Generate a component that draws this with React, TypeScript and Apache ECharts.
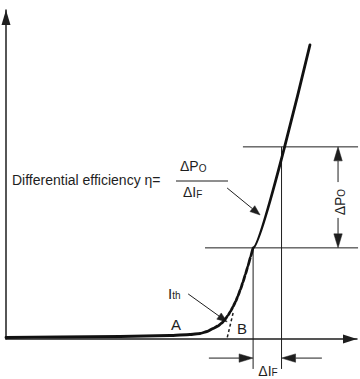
import React, { useEffect, useRef } from "react";
import * as echarts from "echarts";

// Light output Po vs forward current IF (arbitrary units, 0..100 on both axes)
const I_CURVE = [0, 15.4, 32.5, 46.7, 52.4, 55.3, 57.3, 59.0, 60.4, 61.5, 62.3, 63.2, 64.0, 64.7, 65.4, 66.1, 66.8, 67.5, 68.2, 68.9, 69.7, 70.4, 86.6];
const PO_CURVE = [0.46, 0.61, 0.76, 1.06, 1.37, 1.67, 2.28, 3.19, 3.95, 4.86, 5.85, 7.12, 8.48, 9.84, 11.38, 13.13, 15.09, 17.26, 19.6, 22.08, 25.04, 27.7, 89.4];

// Construction of the differential efficiency
const PO_LEVELS = [27.7, 58.4];
const IF_AT_LEVELS = [70.4, 78.5];
const GUIDE_FROM_I = [56.7, 67.5];
const GUIDE_TO_I = 100.3;
const DIM_BOTTOM_PO = -9.1;
const DIF_ARROW_PO = -5.8;
const DIF_ARROW_FROM = [57.8, 90.0];
const DPO_I = 94.6;
const DPO_ARROW_FROM = [36.8, 47.7];
const DPO_LABEL_PO = 41.6;
const ITH_ARROW = [[51.9, 13.7], [63.0, 5.2]];
const EFF_ARROW = [[63.0, 45.9], [72.4, 37.7]];
const TANGENT_B = [[64.7, 7.9], [63.0, 0.3]];

export default function App() {
  const ref = useRef<HTMLDivElement>(null);
  useEffect(() => {
    const chart = echarts.init(ref.current!, null, { renderer: "svg" });
    const font = "'Liberation Sans', Arial, Helvetica, sans-serif";
    const ink = "#1e1e1e";

    const guideRows = [
      [GUIDE_FROM_I[0], PO_LEVELS[0], GUIDE_TO_I, PO_LEVELS[0]],
      [GUIDE_FROM_I[1], PO_LEVELS[1], GUIDE_TO_I, PO_LEVELS[1]],
      [IF_AT_LEVELS[0], PO_LEVELS[0], IF_AT_LEVELS[0], DIM_BOTTOM_PO],
      [IF_AT_LEVELS[1], PO_LEVELS[1], IF_AT_LEVELS[1], DIM_BOTTOM_PO],
    ];
    const dimArrowRows = [
      [DIF_ARROW_FROM[0], DIF_ARROW_PO, IF_AT_LEVELS[0], DIF_ARROW_PO],
      [DIF_ARROW_FROM[1], DIF_ARROW_PO, IF_AT_LEVELS[1], DIF_ARROW_PO],
      [DPO_I, DPO_ARROW_FROM[0], DPO_I, PO_LEVELS[0]],
      [DPO_I, DPO_ARROW_FROM[1], DPO_I, PO_LEVELS[1]],
    ];
    const pointerRows = [
      [ITH_ARROW[0][0], ITH_ARROW[0][1], ITH_ARROW[1][0], ITH_ARROW[1][1]],
      [EFF_ARROW[0][0], EFF_ARROW[0][1], EFF_ARROW[1][0], EFF_ARROW[1][1]],
    ];
    const tangentRows = [[TANGENT_B[0][0], TANGENT_B[0][1], TANGENT_B[1][0], TANGENT_B[1][1]]];

    const lineRender = (lw: number, dash?: number[]) => (params: any, api: any) => {
      const a = api.coord([api.value(0), api.value(1)]);
      const b = api.coord([api.value(2), api.value(3)]);
      return {
        type: "line",
        shape: { x1: a[0], y1: a[1], x2: b[0], y2: b[1] },
        style: { stroke: ink, lineWidth: lw, lineDash: dash || null },
      };
    };
    const arrowRender = (headLen: number, headHalf: number, lw: number) => (params: any, api: any) => {
      const a = api.coord([api.value(0), api.value(1)]);
      const b = api.coord([api.value(2), api.value(3)]);
      const dx = b[0] - a[0];
      const dy = b[1] - a[1];
      const len = Math.hypot(dx, dy) || 1;
      const ux = dx / len;
      const uy = dy / len;
      const base = [b[0] - ux * headLen, b[1] - uy * headLen];
      const l = [base[0] - uy * headHalf, base[1] + ux * headHalf];
      const r = [base[0] + uy * headHalf, base[1] - ux * headHalf];
      return {
        type: "group",
        children: [
          { type: "line", shape: { x1: a[0], y1: a[1], x2: base[0], y2: base[1] }, style: { stroke: ink, lineWidth: lw } },
          { type: "polygon", shape: { points: [b, l, r] }, style: { fill: ink, stroke: ink, lineWidth: 0.5 } },
        ],
      };
    };
    const dims = ["x1", "y1", "x2", "y2"];

    const big = 14;
    const small = 10;
    const richPO = {
      a: { fontSize: big, fontFamily: font, fill: ink, verticalAlign: "bottom", lineHeight: 17 },
      b: { fontSize: small, fontFamily: font, fill: ink, verticalAlign: "bottom", lineHeight: 14.6 },
    };
    const richIth = {
      a: { fontSize: 15, fontFamily: font, fill: ink, verticalAlign: "bottom", lineHeight: 18 },
      b: { fontSize: 10, fontFamily: font, fill: ink, verticalAlign: "bottom", lineHeight: 15 },
    };

    chart.setOption({
      animation: false,
      grid: { left: 6, right: 3, top: 10, bottom: 40, containLabel: false },
      xAxis: {
        type: "value",
        min: 0,
        max: 100,
        axisLine: {
          show: true,
          symbol: ["none", "triangle"],
          symbolSize: [9, 14],
          symbolOffset: [0, -7],
          lineStyle: { color: ink, width: 1.5 },
        },
        axisTick: { show: false },
        axisLabel: { show: false },
        splitLine: { show: false },
      },
      yAxis: {
        type: "value",
        min: 0,
        max: 100,
        axisLine: {
          show: true,
          symbol: ["none", "triangle"],
          symbolSize: [9, 15],
          symbolOffset: [0, -7.5],
          lineStyle: { color: ink, width: 1.5 },
        },
        axisTick: { show: false },
        axisLabel: { show: false },
        splitLine: { show: false },
      },
      series: [
        {
          type: "custom",
          name: "guides",
          clip: false,
          silent: true,
          dimensions: dims,
          encode: { x: [0, 2], y: [1, 3] },
          renderItem: lineRender(1),
          data: guideRows,
          z: 2,
        },
        {
          type: "custom",
          name: "dimension arrows",
          clip: false,
          silent: true,
          dimensions: dims,
          encode: { x: [0, 2], y: [1, 3] },
          renderItem: arrowRender(14, 4.2, 1),
          data: dimArrowRows,
          z: 3,
        },
        {
          type: "custom",
          name: "pointers",
          clip: false,
          silent: true,
          dimensions: dims,
          encode: { x: [0, 2], y: [1, 3] },
          renderItem: arrowRender(10, 3.8, 1),
          data: pointerRows,
          z: 4,
        },
        {
          type: "custom",
          name: "tangent",
          clip: false,
          silent: true,
          dimensions: dims,
          encode: { x: [0, 2], y: [1, 3] },
          renderItem: lineRender(1.5, [3, 2.5]),
          data: tangentRows,
          z: 4,
        },
        {
          type: "line",
          name: "Po-IF",
          data: I_CURVE.map((x, i) => [x, PO_CURVE[i]]),
          showSymbol: false,
          smooth: 0.15,
          smoothMonotone: "x",
          clip: false,
          lineStyle: { color: "#111", width: 2.8, cap: "round", join: "round" },
          z: 5,
        },
      ],
      graphic: [
        {
          type: "text",
          x: 12,
          y: 180,
          style: { text: "Differential efficiency η=", fontSize: big, fontFamily: font, fill: ink, align: "left", verticalAlign: "middle" },
        },
        {
          type: "text",
          x: 180,
          y: 164.5,
          style: { text: "{a|ΔP}{b|O}", rich: richPO, align: "left", verticalAlign: "middle" },
        },
        {
          type: "line",
          shape: { x1: 176, y1: 181, x2: 228, y2: 181 },
          style: { stroke: ink, lineWidth: 1 },
        },
        {
          type: "text",
          x: 183,
          y: 190.5,
          style: { text: "{a|ΔI}{b|F}", rich: richPO, align: "left", verticalAlign: "middle" },
        },
        {
          type: "text",
          x: 168,
          y: 291.5,
          style: { text: "{a|I}{b|th}", rich: richIth, align: "left", verticalAlign: "middle" },
        },
        {
          type: "text",
          x: 176,
          y: 324,
          style: { text: "A", fontSize: 15, fontFamily: font, fill: ink, align: "center", verticalAlign: "middle" },
        },
        {
          type: "text",
          x: 237,
          y: 328,
          style: { text: "B", fontSize: 15, fontFamily: font, fill: ink, align: "left", verticalAlign: "middle" },
        },
        {
          type: "text",
          x: 338,
          y: 339 - DPO_LABEL_PO * 3.29,
          rotation: Math.PI / 2,
          style: { text: "{a|ΔP}{b|O}", rich: richPO, align: "center", verticalAlign: "middle" },
        },
        {
          type: "text",
          x: 268,
          y: 369,
          style: { text: "{a|ΔI}{b|F}", rich: richPO, align: "center", verticalAlign: "middle" },
        },
      ],
    });
    return () => chart.dispose();
  }, []);
  return (
    <div
      ref={ref}
      style={{ position: "fixed", left: 0, top: 0, width: 360, height: 379, background: "#fff" }}
    />
  );
}
